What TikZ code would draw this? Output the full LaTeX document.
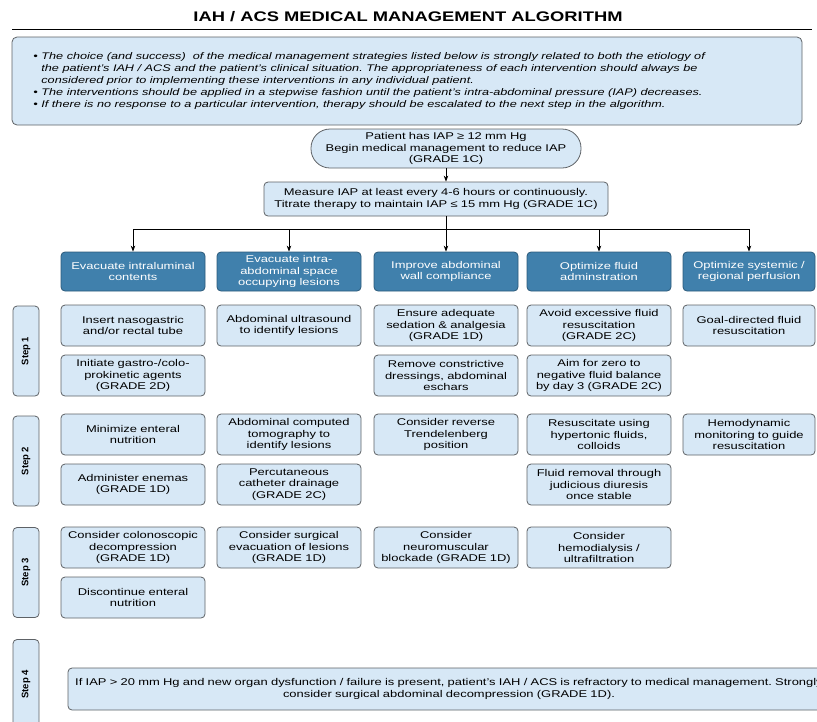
\documentclass[tikz,border=0pt]{standalone}
\usepackage{fontspec}
\setmainfont{Liberation Sans}[FakeStretch=1.32]
\newfontfamily\steplabelfont{Liberation Sans}
\usetikzlibrary{arrows.meta}
\definecolor{boxfill}{HTML}{D7E8F6}
\definecolor{boxline}{HTML}{5E6266}
\definecolor{catfill}{HTML}{4080AC}
\definecolor{catline}{HTML}{2C5A7A}
\newcommand{\noteitem}{\makebox[8pt][l]{\textbullet}}
\newcommand{\notecont}{\hspace*{8pt}}
\frenchspacing

\begin{document}
\begin{tikzpicture}[x=1pt,y=-1pt,line width=0.8pt,
    >={Stealth[length=6pt,width=4.5pt]},
    plainbox/.style={draw=boxline,fill=boxfill,rounded corners=4pt,align=center,
      inner xsep=3pt,inner ysep=0pt,minimum height=41pt,text width=138pt,
      font=\fontsize{9.8}{11.5}\selectfont},
    catbox/.style={plainbox,draw=catline,fill=catfill,text=white,minimum height=39pt},
    steplabel/.style={draw=boxline,fill=boxfill,rounded corners=4pt,rotate=90,
      minimum width=90pt,minimum height=26pt,inner sep=0pt,
      font=\steplabelfont\bfseries\fontsize{9.5}{10}\selectfont}]
  \useasboundingbox (0,0) rectangle (817,721);

  % Title
  \node[font=\bfseries\fontsize{13.9}{16}\selectfont] (title) at (408,17) {IAH / ACS MEDICAL MANAGEMENT ALGORITHM};
  \draw (12,29) -- (812,29);

  % Notes
  \node[draw=boxline,fill=boxfill,rounded corners=5pt,minimum width=790pt,minimum height=88pt,inner sep=0pt] (notes) at (407,81) {};
  \node[anchor=west,align=left,inner sep=0pt,font=\itshape\fontsize{9.6}{12}\selectfont] (notetext) at (33,81) {%
    \noteitem The choice (and success)\ \ of the medical management strategies listed below is strongly related to both the etiology of\\
    \notecont the patient’s IAH / ACS and the patient’s clinical situation. The appropriateness of each intervention should always be\\
    \notecont considered prior to implementing these interventions in any individual patient.\\
    \noteitem The interventions should be applied in a stepwise fashion until the patient’s intra-abdominal pressure (IAP) decreases.\\
    \noteitem If there is no response to a particular intervention, therapy should be escalated to the next step in the algorithm.};

  % Start and monitoring
  \node[plainbox,rounded corners=19pt,text width=264pt,minimum height=39pt] (start) at (446,148.5)
    {Patient has IAP ≥ 12 mm Hg\\Begin medical management to reduce IAP\\(GRADE 1C)};
  \node[plainbox,text width=338pt,minimum height=34pt] (measure) at (436,199)
    {Measure IAP at least every 4-6 hours or continuously.\\Titrate therapy to maintain IAP ≤ 15 mm Hg (GRADE 1C)};

  % Treatment goals
  \node[catbox] (cat1) at (133,271.5) {Evacuate intraluminal\\contents};
  \node[catbox] (cat2) at (289,271.5) {Evacuate intra-\\abdominal space\\occupying lesions};
  \node[catbox] (cat3) at (446,271.5) {Improve abdominal\\wall compliance};
  \node[catbox] (cat4) at (599,271.5) {Optimize fluid\\adminstration};
  \node[catbox,text width=126pt] (cat5) at (749,271.5) {Optimize systemic /\\regional perfusion};

  \draw[->] (start.south) -- (start.south |- measure.north);
  \coordinate (split) at (446,229);
  \draw (split |- measure.south) -- (split);
  \foreach \c in {cat1,cat2,cat3,cat4,cat5}
    \draw[->] (split) -| (\c.north);

  % Steps
  \node[steplabel] (step1) at (26,351) {Step 1};
  \node[steplabel] (step2) at (26,461) {Step 2};
  \node[steplabel] (step3) at (26,572.5) {Step 3};
  \node[steplabel] (step4) at (26,684.5) {Step 4};

  % Step 1
  \node[plainbox] (tube) at (133,325.5) {Insert nasogastric\\and/or rectal tube};
  \node[plainbox] (prokinetic) at (133,375.5) {Initiate gastro-/colo-\\prokinetic agents\\(GRADE 2D)};
  \node[plainbox] (ultrasound) at (289,325.5) {Abdominal ultrasound\\to identify lesions\\[5pt]};
  \node[plainbox] (sedation) at (446,325.5) {Ensure adequate\\sedation \& analgesia\\(GRADE 1D)};
  \node[plainbox] (dressings) at (446,375.5) {Remove constrictive\\dressings, abdominal\\eschars};
  \node[plainbox] (avoidfluid) at (599,325.5) {Avoid excessive fluid\\resuscitation\\(GRADE 2C)};
  \node[plainbox] (zerobalance) at (599,375.5) {Aim for zero to\\negative fluid balance\\by day 3 (GRADE 2C)};
  \node[plainbox,text width=126pt] (goalfluid) at (749,325.5) {Goal-directed fluid\\resuscitation\\[5pt]};

  % Step 2
  \node[plainbox] (enteral) at (133,434.5) {Minimize enteral\\nutrition};
  \node[plainbox] (enemas) at (133,484.5) {Administer enemas\\(GRADE 1D)};
  \node[plainbox] (tomography) at (289,434.5) {Abdominal computed\\tomography to\\identify lesions};
  \node[plainbox] (drainage) at (289,484.5) {Percutaneous\\catheter drainage\\(GRADE 2C)};
  \node[plainbox] (trendelenberg) at (446,434.5) {Consider reverse\\Trendelenberg\\position};
  \node[plainbox] (hypertonic) at (599,434.5) {Resuscitate using\\hypertonic fluids,\\colloids};
  \node[plainbox] (diuresis) at (599,484.5) {Fluid removal through\\judicious diuresis\\once stable};
  \node[plainbox,text width=126pt] (hemodynamic) at (749,434.5) {Hemodynamic\\monitoring to guide\\resuscitation};

  % Step 3
  \node[plainbox] (colonoscopic) at (133,547.5) {Consider colonoscopic\\decompression\\(GRADE 1D)};
  \node[plainbox] (discontinue) at (133,597.5) {Discontinue enteral\\nutrition};
  \node[plainbox] (surgical) at (289,547.5) {Consider surgical\\evacuation of lesions\\(GRADE 1D)};
  \node[plainbox] (blockade) at (446,547.5) {Consider\\neuromuscular\\blockade (GRADE 1D)};
  \node[plainbox] (hemodialysis) at (599,547.5) {Consider\\hemodialysis /\\ultrafiltration};

  % Step 4
  \node[plainbox,text width=756pt,minimum height=42pt] (decompression) at (449,689)
    {If IAP > 20 mm Hg and new organ dysfunction / failure is present, patient’s IAH / ACS is refractory to medical management. Strongly\\consider surgical abdominal decompression (GRADE 1D).};
\end{tikzpicture}
\end{document}
